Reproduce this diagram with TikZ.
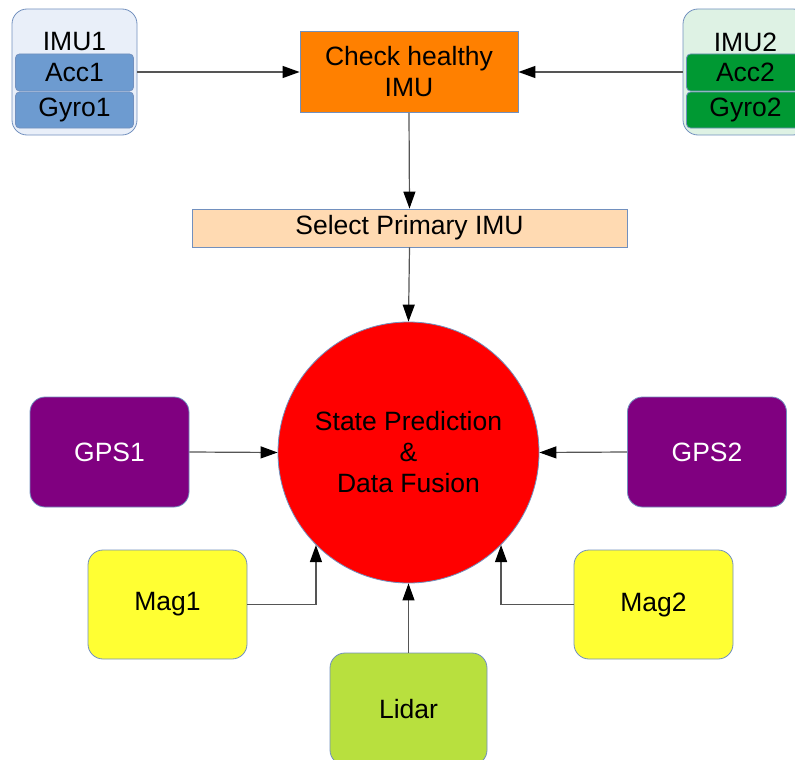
\documentclass[tikz,border=0pt]{standalone}
\usepackage{fontspec}
\setmainfont{Liberation Sans}
\usetikzlibrary{arrows.meta,positioning,calc}
\definecolor{edgeblue}{RGB}{114,144,190}
\definecolor{imuonefill}{RGB}{233,239,249}
\definecolor{imuoneblue}{RGB}{109,155,208}
\definecolor{imutwofill}{RGB}{222,242,228}
\definecolor{imutwogreen}{RGB}{0,153,51}
\definecolor{checkorange}{RGB}{255,128,0}
\definecolor{selectpeach}{RGB}{255,218,178}
\definecolor{fusionred}{RGB}{255,0,0}
\definecolor{gpspurple}{RGB}{128,0,128}
\definecolor{magyellow}{RGB}{255,255,51}
\definecolor{lidargreen}{RGB}{184,224,62}
\definecolor{wiregray}{RGB}{85,85,85}

\begin{document}
\begin{tikzpicture}[x=1pt,y=-1pt,
    every node/.style={font=\fontsize{26.5}{31}\selectfont},
    frame/.style={draw=edgeblue,line width=0.8pt},
    sensbox/.style={frame,rounded corners=15pt,minimum width=159pt,minimum height=110pt},
    wire/.style={draw=wiregray,line width=1.2pt,-{Triangle[length=17pt,width=12pt,color=black]}}]
  \useasboundingbox (0,0) rectangle (795,760);
  % imu groups
  \foreach \i/\x/\outer/\inner in {1/74.5/imuonefill/imuoneblue,2/745.5/imutwofill/imutwogreen}{
    \node[frame,fill=\outer,rounded corners=15pt,minimum width=125pt,minimum height=126pt](imu\i) at (\x,72){};
    \node(imulbl\i) at (\x,42){IMU\i};
    \node[frame,fill=\inner,rounded corners=4pt,minimum width=118pt,minimum height=37pt,inner sep=0pt](acc\i) at (\x,72.5){Acc\i};
    \node[frame,fill=\inner,rounded corners=4pt,minimum width=118pt,minimum height=36pt,inner sep=0pt](gyro\i) at (\x,110){Gyro\i};
  }
  \node[frame,fill=checkorange,minimum width=218pt,minimum height=81pt,align=center](check) at (409,72){Check healthy\\IMU};
  \node[frame,fill=selectpeach,minimum width=435pt,minimum height=38pt,inner sep=0pt](select) at (409.5,228){Select Primary IMU};
  \node[frame,fill=fusionred,circle,minimum size=261pt,align=center](fusion) at (408.5,452.5){State Prediction\\\&\\Data Fusion};
  % sensors
  \node[sensbox,fill=gpspurple,text=white](gps1) at (109.5,452){GPS1};
  \node[sensbox,fill=gpspurple,text=white](gps2) at (707,452){GPS2};
  \node[sensbox,fill=magyellow,minimum height=109pt](mag1) at (167.5,604.5){Mag1};
  \node[sensbox,fill=magyellow,minimum height=109pt](mag2) at (653.5,604.5){Mag2};
  \node[sensbox,fill=lidargreen,minimum width=157pt,minimum height=112pt](lidar) at (408.5,709){Lidar};
  % connectors
  \draw[wire](imu1.east)--(check.west);
  \draw[wire](imu2.west)--(check.east);
  \draw[wire](check.south)--(select.north);
  \draw[wire](select.south)--(fusion.north);
  \draw[wire](gps1.east)--(fusion.west);
  \draw[wire](gps2.west)--(fusion.east);
  \draw[wire](mag1.east)-|(fusion.south west);
  \draw[wire](mag2.west)-|(fusion.south east);
  \draw[wire](lidar.north)--(fusion.south);
\end{tikzpicture}
\end{document}
